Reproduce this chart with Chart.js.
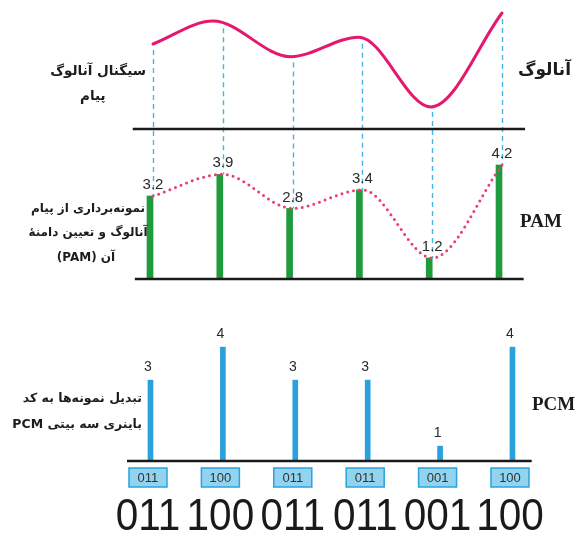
<!DOCTYPE html>
<html><head><meta charset="utf-8">
<script src="https://cdn.jsdelivr.net/npm/chart.js@4/dist/chart.umd.min.js"></script>
<style>
html,body{margin:0;padding:0;background:#fff;width:576px;height:533px;overflow:hidden}
#wrap{position:relative;width:576px;height:533px}
canvas{position:absolute;left:0;top:0}
.fa{position:absolute;direction:rtl;font-family:"DejaVu Sans";font-weight:bold;color:#1c1c1c;white-space:nowrap;line-height:1}
.en{position:absolute;font-family:"Liberation Serif";font-weight:bold;color:#1c1c1c;font-size:19px;line-height:1;white-space:nowrap}
</style></head><body>
<div id="wrap">
<canvas id="c" width="576" height="533"></canvas>
<div class="fa" style="right:430px;top:64px;font-size:13.5px">سیگنال آنالوگ</div>
<div class="fa" style="left:80px;top:89px;font-size:13.5px">پیام</div>
<div class="fa" style="left:518px;top:61px;font-size:17px">آنالوگ</div>
<div class="fa" style="left:0;width:176px;text-align:center;top:202px;font-size:12px">نمونه‌برداری از پیام</div>
<div class="fa" style="left:0;width:176px;text-align:center;top:226px;font-size:12px">آنالوگ و تعیین دامنهٔ</div>
<div class="fa" style="left:0;width:172px;text-align:center;top:251px;font-size:12px">آن (PAM)</div>
<div class="en" style="left:520px;top:211px">PAM</div>
<div class="fa" style="right:434px;top:392px;font-size:12.5px">تبدیل نمونه‌ها به کد</div>
<div class="fa" style="right:434px;top:418px;font-size:12.5px">باینری سه بیتی PCM</div>
<div class="en" style="left:532px;top:394px">PCM</div>
</div>
<script>
// ---- data ----
const sampleIdx = [0, 1, 2, 3, 4, 5];
const analogT = [0, 0.86, 1.97, 2.95, 3.98, 5];
const analogV = [3.2, 3.94, 2.79, 3.42, 1.17, 4.2];
const pamValues = [3.2, 3.9, 2.8, 3.4, 1.2, 4.2];
const pcmValues = [3, 4, 3, 3, 1, 4];
const pcmCodes = ['011', '100', '011', '011', '001', '100'];

const PAM_BASE = 0.52, PCM_BASE = 0.55, ANALOG_BASE = 0.46;

const analogData = analogT.map((t, k) => ({x: t, y: analogV[k]}));
const pamData = sampleIdx.map(i => ({x: i, y: pamValues[i]}));
const pcmData = sampleIdx.map(i => ({x: i, y: pcmValues[i]}));

const deco = {
  id: 'deco',
  beforeDatasetsDraw(chart) {
    const {ctx, scales} = chart;
    const {x, yA, yP} = scales;
    ctx.save();
    ctx.strokeStyle = '#45b3e6';
    ctx.lineWidth = 1.4;
    ctx.setLineDash([5, 4]);
    sampleIdx.forEach(i => {
      const px = Math.round(x.getPixelForValue(i)) + 0.5;
      ctx.beginPath();
      ctx.moveTo(px, yA.getPixelForValue(pamValues[i]) + 6);
      ctx.lineTo(px, yP.getPixelForValue(pamValues[i]));
      ctx.stroke();
    });
    ctx.restore();
  },
  afterDatasetsDraw(chart) {
    const {ctx, scales} = chart;
    const {x, x2, yA, yP, yC} = scales;
    ctx.save();
    // baselines
    ctx.strokeStyle = '#1a1a1a';
    ctx.lineWidth = 2.5;
    const line = (sx, a, b, y) => { ctx.beginPath(); ctx.moveTo(sx.getPixelForValue(a), y); ctx.lineTo(sx.getPixelForValue(b), y); ctx.stroke(); };
    line(x, -0.29, 5.33, yA.getPixelForValue(ANALOG_BASE));
    line(x, -0.26, 5.31, yP.getPixelForValue(PAM_BASE));
    line(x2, -0.29, 5.3, yC.getPixelForValue(PCM_BASE));
    // PAM value labels
    ctx.fillStyle = '#2a2a2a';
    ctx.textAlign = 'center';
    ctx.textBaseline = 'middle';
    ctx.font = '15px "Liberation Sans", Arial, sans-serif';
    sampleIdx.forEach(i => {
      ctx.fillText(pamValues[i].toFixed(1), x.getPixelForValue(i), yP.getPixelForValue(pamValues[i]) - 11);
    });
    // PCM value labels
    ctx.font = '14px "Liberation Sans", Arial, sans-serif';
    sampleIdx.forEach(i => {
      ctx.fillText(String(pcmValues[i]), x2.getPixelForValue(i), yC.getPixelForValue(pcmValues[i]) - 13);
    });
    // code boxes
    const by = yC.getPixelForValue(PCM_BASE);
    sampleIdx.forEach(i => {
      const cx = x2.getPixelForValue(i);
      ctx.fillStyle = '#92d3ef';
      ctx.strokeStyle = '#2aa3dc';
      ctx.lineWidth = 1.5;
      ctx.fillRect(cx - 19, by + 7, 38, 19);
      ctx.strokeRect(cx - 19, by + 7, 38, 19);
      ctx.fillStyle = '#333';
      ctx.font = '13px "Liberation Sans", Arial, sans-serif';
      ctx.fillText(pcmCodes[i], cx, by + 17);
    });
    // big binary row
    ctx.fillStyle = '#1a1a1a';
    ctx.textBaseline = 'alphabetic';
    ctx.font = '45px "Liberation Sans", Arial, sans-serif';
    sampleIdx.forEach(i => {
      const cx = x2.getPixelForValue(i);
      ctx.save();
      ctx.translate(cx, by + 69);
      ctx.scale(0.9, 1);
      ctx.fillText(pcmCodes[i], 0, 0);
      ctx.restore();
    });
    ctx.restore();
  }
};

new Chart(document.getElementById('c'), {
  data: {
    datasets: [
      {type: 'line', data: analogData, xAxisID: 'x', yAxisID: 'yA', borderColor: '#e5186f', borderWidth: 3,
       pointRadius: 0, cubicInterpolationMode: 'monotone', borderCapStyle: 'round', fill: false},
      {type: 'line', data: pamData, xAxisID: 'x', yAxisID: 'yP', borderColor: '#ee3d6b', borderWidth: 3,
       borderDash: [0, 6], borderCapStyle: 'round', pointRadius: 0, cubicInterpolationMode: 'monotone', fill: false},
      {type: 'bar', data: pamData, xAxisID: 'x', yAxisID: 'yP', base: PAM_BASE, backgroundColor: '#1f9a3d', barThickness: 6},
      {type: 'bar', data: pcmData, xAxisID: 'x2', yAxisID: 'yC', base: PCM_BASE, backgroundColor: '#2aa0dc', barThickness: 5}
    ]
  },
  options: {
    responsive: false,
    animation: false,
    layout: {padding: 0, autoPadding: false},
    plugins: {legend: {display: false}, tooltip: {enabled: false}},
    scales: {
      x: {type: 'linear', display: false, offset: false, min: -2.192, max: 6.060},
      x2: {type: 'linear', display: false, offset: false, min: -2.044, max: 5.912},
      yA: {type: 'linear', display: false, min: -12.574, max: 4.619},
      yP: {type: 'linear', display: false, min: -7.671, max: 9.523},
      yC: {type: 'linear', display: false, min: -1.632, max: 14.52}
    }
  },
  plugins: [deco]
});
</script>
</body></html>
